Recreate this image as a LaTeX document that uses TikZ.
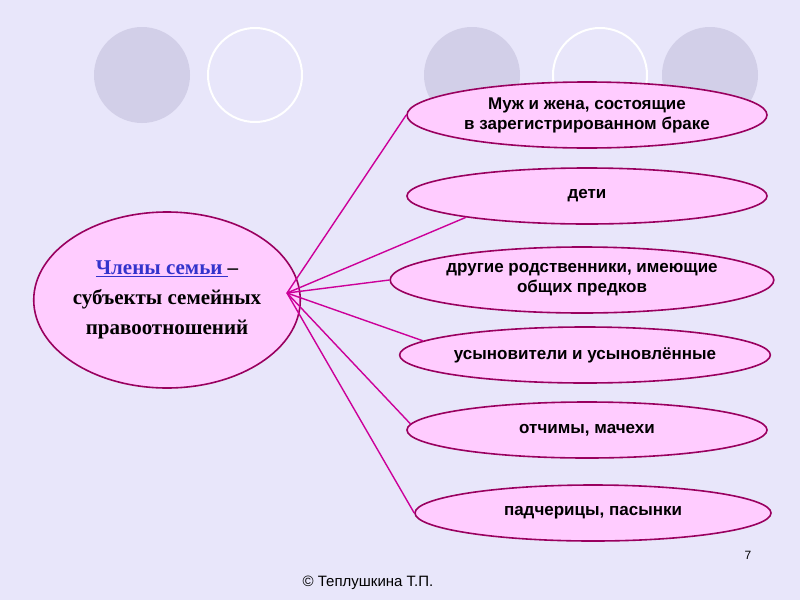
\documentclass[tikz,border=0pt]{standalone}
\usepackage{fontspec}
\setmainfont{Liberation Sans}
\newfontfamily\tnr{Liberation Serif}
\usetikzlibrary{shapes.geometric}
\definecolor{bg}{HTML}{E8E6FA}
\definecolor{dotf}{HTML}{D2CFE8}
\definecolor{pk}{HTML}{FFCCFF}
\definecolor{ln}{HTML}{CC0099}
\definecolor{bd}{HTML}{99005F}
\definecolor{lk}{HTML}{3333CC}
\tikzset{
 oval/.style={ellipse,draw=bd,line width=1.6pt,fill=pk,inner sep=0pt,align=center,font=\fontsize{17}{20}\selectfont\bfseries},
 conn/.style={ln,line width=1.4pt}
}
\begin{document}
\begin{tikzpicture}[x=1pt,y=-1pt]
\fill[bg] (0,0) rectangle (800,600);
\useasboundingbox (0,0) rectangle (800,600);
\fill[dotf] (142,75) circle (48);
\draw[white,line width=2pt] (255,75) circle (47);
\fill[dotf] (472,75) circle (48);
\draw[white,line width=2pt] (600,75) circle (47);
\fill[dotf] (710,75) circle (48);
\node[oval,minimum width=240,minimum height=176,font=\tnr\fontsize{21}{30}\selectfont\bfseries] (c) at (167,300)
 {\textcolor{lk}{\underline{Члены семьи }}–\\субъекты семейных\\правоотношений};
\node[oval,minimum width=360,minimum height=66] (e1) at (587,115) {Муж и жена, состоящие\\в зарегистрированном браке};
\node[oval,minimum width=360,minimum height=56] (e2) at (587,196) {дети};
\node[oval,minimum width=340,minimum height=66] (e3) at (582,280) {другие родственники, имеющие\\общих предков};
\node[oval,minimum width=350,minimum height=56] (e4) at (585,355) {усыновители и усыновлённые};
\node[oval,minimum width=360,minimum height=56] (e5) at (587,430) {отчимы, мачехи};
\node[oval,minimum width=356,minimum height=56] (e6) at (593,513) {падчерицы, пасынки};
\coordinate (h) at (287,293);
\draw[conn] (h) -- (e1.west);
\draw[conn] (h) -- (e2.190);
\draw[conn] (h) -- (e3.west);
\draw[conn] (h) -- (e4.175);
\draw[conn] (h) -- (e5.178);
\draw[conn] (h) -- (e6.west);
\node[font=\fontsize{12}{14}\selectfont] (pn) at (748,555) {7};
\node[font=\fontsize{15}{18}\selectfont] (cp) at (368,583) {© Теплушкина  Т.П.};
\end{tikzpicture}
\end{document}
